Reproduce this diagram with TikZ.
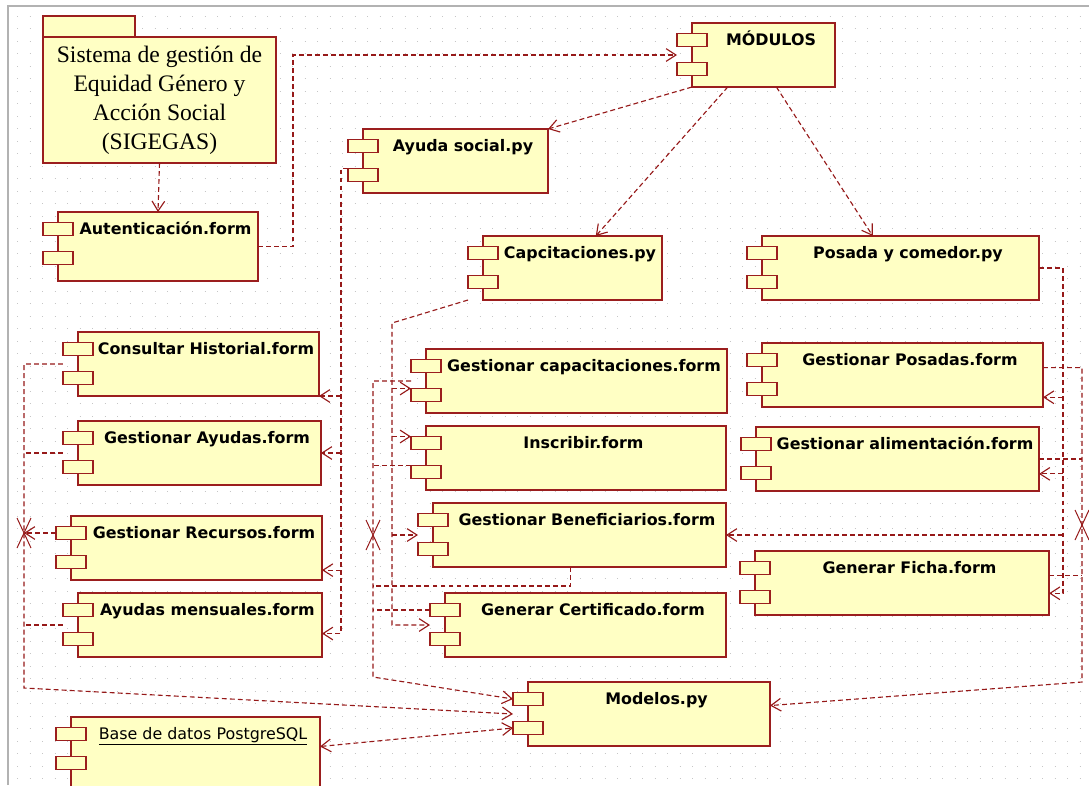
\documentclass[tikz,border=0pt]{standalone}
\usepackage{fontspec}
\setmainfont{DejaVu Sans}
\newfontfamily\pkgfont{Liberation Serif}
\usetikzlibrary{positioning,arrows.meta,calc}

\definecolor{cfill}{RGB}{255,255,196}
\definecolor{cline}{RGB}{155,30,30}
\definecolor{dline}{RGB}{150,25,25}

\newcommand{\comp}[6][64]{%
  \node[cbody, minimum width={(#5-#3)*0.025cm}, minimum height={#1*0.025cm}] (#2) at ({(#3+#5)/2},{#4+#1/2}) {};
  \node[ctab] (#2-t1) at (#3,#4+17) {};
  \node[ctab] (#2-t2) at (#3,#4+46) {};
  \node[clabel] (#2-l) at ({(#3+15+#5)/2},#4+22) {#6};
}

\begin{document}
\begin{tikzpicture}[x=0.025cm, y=-0.025cm,
  every node/.style={font=\fontsize{11.3}{13.5}\selectfont},
  cbody/.style={draw=cline, fill=cfill, line width=0.9pt, inner sep=0pt, outer sep=0pt},
  ctab/.style={cbody, minimum width=0.75cm, minimum height=0.325cm},
  clabel/.style={anchor=base, inner sep=0pt, font=\fontsize{11.3}{13.5}\selectfont\bfseries},
  dashlink/.style={draw=dline, line width=0.8pt, dash pattern=on 3.5pt off 2.2pt},
  dep/.style={dashlink, -{Straight Barb[length=7pt,width=9pt]}},
  depboth/.style={dashlink, {Straight Barb[length=7pt,width=9pt]}-{Straight Barb[length=7pt,width=9pt]}},
  xmark/.style={draw=dline, line width=0.7pt},
  griddot/.style={draw=gray!45, line width=0.6pt, dash pattern=on 0.6pt off 8.29pt}]
  \useasboundingbox (0,0) rectangle (1089,785);
  \fill[white] (0,0) rectangle (1089,785);
  \foreach \y in {16,28.5,...,785} \draw[griddot] (17,\y) -- (1089,\y);
  \draw[gray!60, line width=1.2pt] (8,785) -- (8,6) -- (1089,6);

  \node[cbody, minimum width=2.3cm, minimum height=0.525cm] (pkg-t) at (89,26.5) {};
  \node[cbody, minimum width=5.825cm, minimum height=3.15cm, align=center, font=\pkgfont\fontsize{16.8}{20.6}\selectfont] (pkg) at (159.5,100) {Sistema de gestión de\\Equidad Género y\\Acción Social\\(SIGEGAS)};

  \comp[69]{auth}{58}{212}{258}{Autenticación.form}
  \comp{mod}{692}{23}{835}{MÓDULOS}
  \comp{ayuda}{363}{129}{548}{Ayuda social.py}
  \comp{cap}{483}{236}{662}{Capcitaciones.py}
  \comp{posada}{762}{236}{1039}{Posada y comedor.py}
  \comp{hist}{78}{332}{319}{Consultar Historial.form}
  \comp{gay}{78}{421}{321}{Gestionar Ayudas.form}
  \comp{rec}{71}{516}{322}{Gestionar Recursos.form}
  \comp{mens}{78}{593}{322}{Ayudas mensuales.form}
  \comp{gcap}{426}{349}{727}{Gestionar capacitaciones.form}
  \comp{insc}{426}{426}{726}{Inscribir.form}
  \comp{ben}{433}{503}{726}{Gestionar Beneficiarios.form}
  \comp{cert}{445}{593}{726}{Generar Certificado.form}
  \comp{gpos}{762}{343}{1043}{Gestionar Posadas.form}
  \comp{alim}{756}{427}{1039}{Gestionar alimentación.form}
  \comp{ficha}{755}{551}{1049}{Generar Ficha.form}
  \comp{mdl}{528}{682}{770}{Modelos.py}
  \comp[72]{db}{71}{717}{320}{\mdseries\underline{Base de datos PostgreSQL}}

  \coordinate (ayX) at (341,0);
  \coordinate (lbX) at (24,688);
  \coordinate (mbX) at (373,677);
  \coordinate (cbX) at (392,323);
  \coordinate (pbX) at (1063,0);
  \coordinate (rbX) at (1082,682);
  \coordinate (xl) at (lbX |- rec-t1.west);
  \coordinate (xm) at (mbX |- ben.west);
  \coordinate (xr) at (1082,525);

  \draw[dep] (pkg.south) -- (auth.north);
  \draw[dep] (auth.east) -- ++(35,0) |- (mod-t1.west |- mod.west);
  \draw[dep] (mod.south west) -- (ayuda.north east);
  \draw[dep] ($(mod.south west)!0.25!(mod.south east)$) -- ($(cap.north west)!0.63!(cap.north east)$);
  \draw[dep] ($(mod.south west)!0.59!(mod.south east)$) -- ($(posada.north west)!0.4!(posada.north east)$);

  \draw[dep] (ayuda-t2.north west) -| (ayX |- mens.-4) -- (mens.-4);
  \draw[dep] (ayX |- hist.south east) -- (hist.south east);
  \draw[dep] (ayX |- gay.east) -- (gay.east);
  \draw[dep] (ayX |- rec.-10) -- (rec.-10);

  \draw[dep] (hist-t1.west |- hist.west) -| (lbX) -- (mdl-t1.west |- mdl.west);
  \draw[dashlink] (gay-t1.west |- gay.west) -- (lbX |- gay.west);
  \draw[dep] (rec-t1.west) -- (xl);
  \draw[dashlink] (mens-t1.west |- mens.west) -- (lbX |- mens.west);

  \draw[dep] (cap-t2.west |- cap.south) -- (cbX) |- (cert-t1.west |- cert.west);
  \draw[dep] (cbX |- gcap-t2.north west) -- (gcap-t2.north west);
  \draw[dep] (cbX |- insc-t1.north west) -- (insc-t1.north west);
  \draw[dep] (cbX |- ben.west) -- (ben-t1.west |- ben.west);

  \draw[dep] (gcap-t1.west |- gcap.west) -| (mbX) -- (mdl-t1.west);
  \draw[dashlink] (insc-t2.north west) -- (mbX |- insc-t2.north west);
  \draw[dashlink] ($(ben.south west)!0.47!(ben.south east)$) -- ++(0,19) coordinate (bens) -- (mbX |- bens);
  \draw[dashlink] (cert-t1.west) -- (mbX |- cert-t1.west);

  \draw[dep] (posada.east) -| (pbX |- ficha.-4) -- (ficha.-4);
  \draw[dep] (pbX |- gpos.-9) -- (gpos.-9);
  \draw[dep] (pbX |- alim.-6) -- (alim.-6);
  \draw[dep] (pbX |- ben.east) -- (ben.east);

  \draw[dep] (gpos.3) -| (rbX) -- (mdl.4);
  \draw[dashlink] (alim.east) -- (rbX |- alim.east);
  \draw[dashlink] (ficha.3) -- (rbX |- ficha.3);

  \draw[depboth] (db.3) -- (mdl-t2.west);

  \foreach \c in {xl,xm,xr} \draw[xmark] (\c) +(-7,-15) -- +(7,15) (\c) +(7,-15) -- +(-7,15);
\end{tikzpicture}
\end{document}
